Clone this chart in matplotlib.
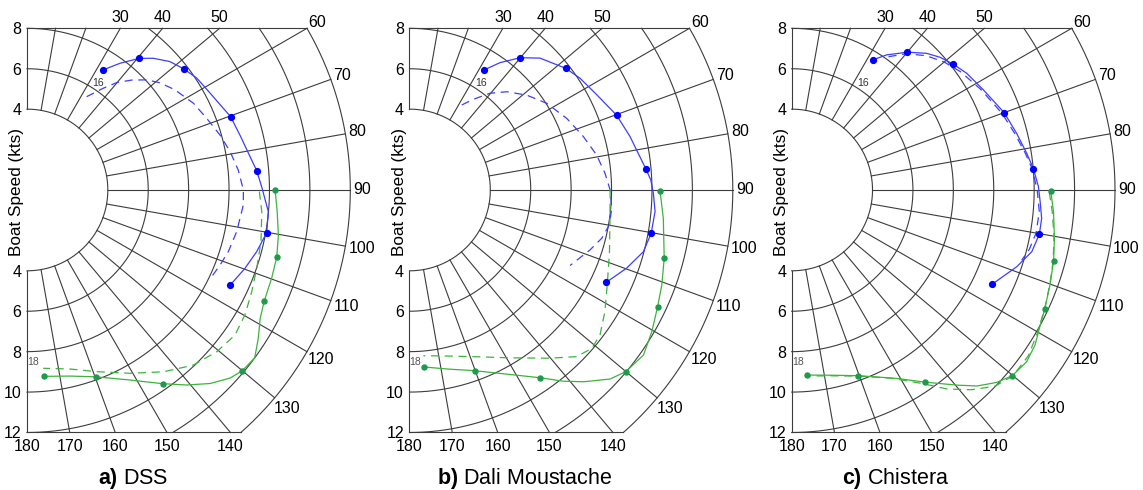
import numpy as np
import matplotlib
matplotlib.use("Agg")
import matplotlib.pyplot as plt

plt.rcParams['font.family'] = ['Liberation Sans', 'DejaVu Sans']
plt.rcParams['mathtext.fontset'] = 'custom'
plt.rcParams['mathtext.rm'] = 'Liberation Sans'
plt.rcParams['mathtext.bf'] = 'Liberation Sans:bold'

# ---------------- data (TWA in degrees, boat speed in kts) ----------------
titles = [r'$\mathbf{a)}$ DSS', r'$\mathbf{b)}$ Dali Moustache', r'$\mathbf{c)}$ Chistera']

# panel a: DSS
a_blue_ang = [32.4, 36.3, 40.4, 43.8, 48.1, 52.4, 56.6, 62.1, 66.2, 70.2, 76.0, 80.6, 85.2, 89.5, 95.1, 100.1, 105.0, 109.8, 115.1]
a_blue_spd = [7.04, 7.78, 8.55, 9.03, 9.51, 9.81, 10.06, 10.25, 10.45, 10.71, 10.90, 11.11, 11.41, 11.63, 11.99, 12.05, 11.77, 11.46, 11.10]
a_blue_mk_ang = [32.4, 40.4, 52.4, 70.2, 85.2, 100.1, 115.1]
a_blue_mk_spd = [7.04, 8.55, 9.81, 10.71, 11.41, 12.05, 11.10]
a_blue_ref_ang = [32.6, 36.9, 39.9, 43.6, 47.4, 51.1, 55.9, 62.5, 68.2, 74.1, 79.3, 84.6, 90.0, 94.0, 101.2, 107.0, 111.2, 115.1]
a_blue_ref_spd = [5.48, 6.30, 6.93, 7.51, 8.05, 8.45, 8.84, 9.29, 9.57, 9.93, 10.23, 10.50, 10.71, 10.73, 10.58, 10.42, 10.25, 10.10]
a_green_ang = [90.0, 95.0, 100.2, 105.1, 109.8, 115.0, 118.8, 122.7, 126.4, 130.0, 132.8, 136.6, 140.7, 145.0, 151.5, 159.8, 167.0, 174.8]
a_green_spd = [12.28, 12.43, 12.64, 12.80, 12.87, 12.96, 13.17, 13.60, 14.00, 13.91, 13.70, 13.18, 12.47, 11.70, 10.70, 9.85, 9.45, 9.26]
a_green_mk_ang = [90.0, 105.1, 115.0, 130.0, 145.0, 159.8, 174.8]
a_green_mk_spd = [12.28, 12.80, 12.96, 13.91, 11.70, 9.85, 9.26]
a_green_ref_ang = [90.4, 95.3, 102.5, 108.8, 114.4, 119.8, 124.9, 130.4, 136.5, 143.1, 150.7, 159.0, 166.5, 174.8]
a_green_ref_spd = [11.50, 11.67, 11.86, 12.01, 12.21, 12.43, 12.55, 12.34, 11.95, 11.25, 10.40, 9.63, 9.11, 8.86]

# panel b: Dali Moustache
b_blue_ang = [31.9, 35.4, 39.9, 44.7, 52.1, 56.8, 63.1, 70.2, 76.4, 85.0, 87.6, 90.8, 95.0, 100.2, 104.8, 109.8, 115.2]
b_blue_spd = [7.00, 7.73, 8.53, 9.18, 9.80, 10.09, 10.40, 10.90, 11.23, 11.75, 11.95, 12.07, 12.20, 12.15, 11.97, 11.42, 10.75]
b_blue_mk_ang = [31.9, 39.9, 52.1, 70.2, 85.0, 100.2, 115.2]
b_blue_mk_spd = [7.00, 8.53, 9.80, 10.90, 11.75, 12.15, 10.75]
b_blue_ref_ang = [31.6, 35.1, 39.8, 44.7, 51.0, 57.7, 65.5, 72.9, 79.4, 85.1, 90.0, 95.2, 99.9, 104.1, 108.4, 115.2]
b_blue_ref_spd = [4.94, 5.48, 6.23, 6.84, 7.46, 8.03, 8.55, 9.00, 9.42, 9.71, 9.93, 10.05, 10.04, 9.81, 9.41, 8.78]
b_green_ang = [90.2, 96.4, 105.0, 110.6, 115.2, 120.3, 125.2, 130.0, 133.3, 137.8, 141.2, 145.1, 152.2, 160.1, 167.3, 175.3]
b_green_spd = [12.40, 12.64, 13.05, 13.34, 13.57, 13.89, 14.17, 13.98, 13.64, 12.81, 12.14, 11.33, 10.30, 9.51, 9.09, 8.79]
b_green_mk_ang = [90.2, 105.0, 115.2, 130.0, 145.1, 160.1, 175.3]
b_green_mk_spd = [12.40, 13.05, 13.57, 13.98, 11.33, 9.51, 8.79]
b_green_ref_ang = [90.0, 98.0, 107.2, 115.7, 121.9, 127.3, 131.0, 134.9, 140.1, 149.1, 158.0, 168.5, 175.2]
b_green_ref_spd = [9.93, 10.02, 10.36, 10.86, 11.39, 11.85, 11.95, 11.68, 10.85, 9.68, 8.90, 8.38, 8.23]

# panel c: Chistera
c_blue_ang = [31.9, 35.1, 40.0, 44.6, 48.2, 51.9, 56.3, 62.4, 70.0, 75.9, 81.1, 85.0, 89.2, 92.7, 96.5, 100.1, 104.4, 108.8, 115.2]
c_blue_spd = [7.58, 8.17, 8.90, 9.50, 9.85, 10.12, 10.41, 10.70, 11.19, 11.48, 11.77, 12.01, 12.21, 12.31, 12.45, 12.45, 12.27, 11.77, 10.96]
c_blue_mk_ang = [31.9, 40.0, 51.9, 70.0, 85.0, 100.1, 115.2]
c_blue_mk_spd = [7.58, 8.90, 10.12, 11.19, 12.01, 12.45, 10.96]
c_blue_ref_ang = [36.0, 40.0, 45.0, 50.0, 55.0, 62.0, 70.0, 76.0, 81.0, 85.0, 90.0, 95.0, 100.0, 104.0, 107.0]
c_blue_ref_spd = [8.15, 8.80, 9.40, 9.85, 10.20, 10.60, 11.08, 11.40, 11.70, 11.95, 12.15, 12.30, 12.28, 12.12, 11.90]
c_green_ang = [90.2, 94.7, 100.4, 105.2, 110.2, 115.2, 119.2, 122.5, 126.2, 130.1, 133.2, 136.6, 139.8, 145.2, 150.9, 160.3, 168.3, 175.2]
c_green_spd = [12.82, 13.00, 13.22, 13.43, 13.62, 13.84, 14.04, 14.28, 14.40, 14.27, 13.91, 13.35, 12.64, 11.58, 10.67, 9.76, 9.36, 9.19]
c_green_mk_ang = [90.2, 105.2, 115.2, 130.1, 145.2, 160.3, 175.2]
c_green_mk_spd = [12.82, 13.43, 13.84, 14.27, 11.58, 9.76, 9.19]
c_green_ref_ang = [90.5, 95.0, 100.0, 105.0, 110.0, 115.0, 120.0, 125.0, 130.0, 134.0, 138.0, 142.0, 146.0, 152.0, 160.0, 168.0, 175.0]
c_green_ref_spd = [12.75, 12.95, 13.18, 13.40, 13.60, 13.82, 14.06, 14.30, 14.30, 13.98, 13.30, 12.50, 11.55, 10.55, 9.80, 9.40, 9.24]

# axis definitions
ring_speeds = [4, 6, 8, 10, 12, 14, 16]
spoke_angles = list(range(10, 180, 10))
top_angle_labels = [30, 40, 50]
side_angle_labels = [60, 70, 80, 90, 100, 110, 120, 130]
bottom_angle_labels = [140, 150, 160, 170, 180]
radial_tick_pos = [8, 6, 4, -4, -6, -8, -10, -12]
radial_tick_lab = ['8', '6', '4', '4', '6', '8', '10', '12']
R_MAX, Y_TOP, Y_BOT, R_IN = 16, 8, -12, 4

panels = [
    dict(blue=(a_blue_ang, a_blue_spd), blue_mk=(a_blue_mk_ang, a_blue_mk_spd), blue_ref=(a_blue_ref_ang, a_blue_ref_spd),
         green=(a_green_ang, a_green_spd), green_mk=(a_green_mk_ang, a_green_mk_spd), green_ref=(a_green_ref_ang, a_green_ref_spd)),
    dict(blue=(b_blue_ang, b_blue_spd), blue_mk=(b_blue_mk_ang, b_blue_mk_spd), blue_ref=(b_blue_ref_ang, b_blue_ref_spd),
         green=(b_green_ang, b_green_spd), green_mk=(b_green_mk_ang, b_green_mk_spd), green_ref=(b_green_ref_ang, b_green_ref_spd)),
    dict(blue=(c_blue_ang, c_blue_spd), blue_mk=(c_blue_mk_ang, c_blue_mk_spd), blue_ref=(c_blue_ref_ang, c_blue_ref_spd),
         green=(c_green_ang, c_green_spd), green_mk=(c_green_mk_ang, c_green_mk_spd), green_ref=(c_green_ref_ang, c_green_ref_spd)),
]

W, H = 1143, 490
fig = plt.figure(figsize=(W / 100, H / 100), dpi=100)

ax_lefts = [27.0, 409.5, 791.7]
title_x = [133, 525, 896]
AX_TOP, AX_W, AX_H = 28.3, 323.3, 404.2

GRID = '#3c3c3c'
BLUE_LINE, BLUE_MK = '#3d3dff', '#0000ff'
GREEN_LINE, GREEN_MK = '#3cb43c', '#1f9a4c'
FS = 11.5


def to_xy(ang, spd):
    t = np.radians(np.asarray(ang, dtype=float))
    s = np.asarray(spd, dtype=float)
    return s * np.sin(t), s * np.cos(t)


for k, p in enumerate(panels):
    L = ax_lefts[k]
    ax = fig.add_axes([L / W, (H - AX_TOP - AX_H) / H, AX_W / W, AX_H / H])
    ax.set_xlim(0, R_MAX)
    ax.set_ylim(Y_BOT, Y_TOP)
    for s in ax.spines.values():
        s.set_visible(False)
    ax.set_xticks([])
    ax.set_yticks(radial_tick_pos, radial_tick_lab)
    ax.tick_params(axis='y', length=0, pad=4, labelsize=FS)
    ax.patch.set_alpha(0)

    # rings
    for r in ring_speeds:
        tmin = np.degrees(np.arccos(min(1.0, Y_TOP / r)))
        tmax = np.degrees(np.arccos(max(-1.0, Y_BOT / r)))
        th = np.linspace(tmin, tmax, 300)
        x, y = to_xy(th, np.full_like(th, r))
        ax.plot(x, y, color=GRID, lw=0.8, clip_on=False, zorder=1)
    # spokes
    for a in spoke_angles:
        c = np.cos(np.radians(a))
        if c > 1e-9:
            rend = min(R_MAX, Y_TOP / c)
        elif c < -1e-9:
            rend = min(R_MAX, Y_BOT / c)
        else:
            rend = R_MAX
        x, y = to_xy([a, a], [R_IN, rend])
        ax.plot(x, y, color=GRID, lw=0.8, clip_on=False, zorder=1)
    # frame
    ax.plot([0, 0], [R_IN, Y_TOP], color=GRID, lw=0.8, clip_on=False, zorder=1)
    ax.plot([0, 0], [-R_IN, Y_BOT], color=GRID, lw=0.8, clip_on=False, zorder=1)
    ax.plot([0, np.sqrt(R_MAX**2 - Y_TOP**2)], [Y_TOP, Y_TOP], color=GRID, lw=0.8, clip_on=False, zorder=1)
    ax.plot([0, np.sqrt(R_MAX**2 - Y_BOT**2)], [Y_BOT, Y_BOT], color=GRID, lw=0.8, clip_on=False, zorder=1)

    # angle labels
    for a in top_angle_labels:
        ax.annotate(str(a), xy=(Y_TOP * np.tan(np.radians(a)), Y_TOP), xytext=(0, 10.5),
                    textcoords='offset pixels', ha='center', va='center', fontsize=FS, annotation_clip=False)
    for a in side_angle_labels:
        d = 12.0 if a < 100 else 16.5
        t = np.radians(a)
        ax.annotate(str(a), xy=(R_MAX * np.sin(t), R_MAX * np.cos(t)), xytext=(d * np.sin(t), d * np.cos(t)),
                    textcoords='offset pixels', ha='center', va='center', fontsize=FS, annotation_clip=False)
    for a in bottom_angle_labels:
        ax.annotate(str(a), xy=(-Y_BOT * np.tan(np.radians(180 - a)), Y_BOT), xytext=(0, -14),
                    textcoords='offset pixels', ha='center', va='center', fontsize=FS, annotation_clip=False)

    # curves
    x, y = to_xy(*p['blue_ref'])
    ax.plot(x, y, color=BLUE_LINE, lw=0.9, dashes=(6.5, 4.5), clip_on=False, zorder=3)
    x, y = to_xy(*p['green_ref'])
    ax.plot(x, y, color=GREEN_LINE, lw=0.9, dashes=(6.5, 4.5), clip_on=False, zorder=3)
    x, y = to_xy(*p['blue'])
    ax.plot(x, y, color=BLUE_LINE, lw=0.9, clip_on=False, zorder=4)
    x, y = to_xy(*p['green'])
    ax.plot(x, y, color=GREEN_LINE, lw=0.9, clip_on=False, zorder=4)
    x, y = to_xy(*p['blue_mk'])
    ax.plot(x, y, ls='none', marker='o', ms=4.2, color=BLUE_MK, mec=BLUE_MK, clip_on=False, zorder=5)
    x, y = to_xy(*p['green_mk'])
    ax.plot(x, y, ls='none', marker='o', ms=3.6, color=GREEN_MK, mec=GREEN_MK, clip_on=False, zorder=5)

    # wind speed tags
    ax.text(3.52, 5.3, '16', fontsize=7.5, color='#333333', ha='center', va='center', zorder=6)
    ax.text(0.3, -8.5, '18', fontsize=7.5, color='#555555', ha='center', va='center', zorder=6)

    # y label
    ax.text(-10 / AX_W, (AX_TOP + AX_H - 192) / AX_H, 'Boat Speed (kts)', rotation=90,
            transform=ax.transAxes, ha='center', va='center', fontsize=12.3)

    fig.text(title_x[k] / W, 1 - 478 / H, titles[k], ha='center', va='center', fontsize=15.5)

fig.savefig('out.png', dpi=100)
